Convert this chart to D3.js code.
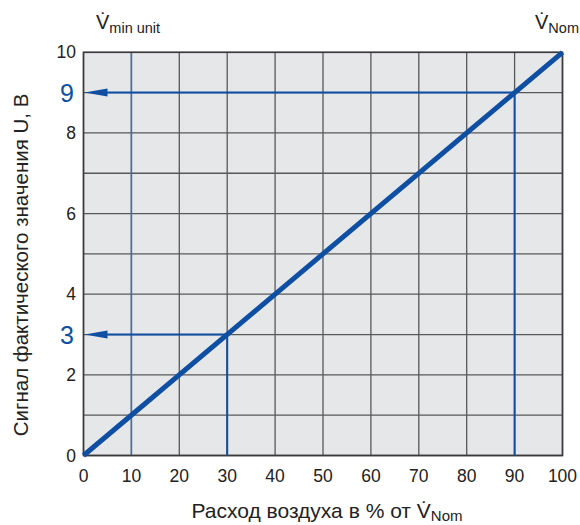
<!DOCTYPE html>
<html><head><meta charset="utf-8">
<script src="https://cdn.jsdelivr.net/npm/d3@7"></script>
<style>body{margin:0;background:#fff}svg{display:block;font-family:"Liberation Sans",Arial,sans-serif}</style>
</head><body>
<svg id="c" width="580" height="525"></svg>
<script>
const xTicks = [0,10,20,30,40,50,60,70,80,90,100];
const yGrid = [0,1,2,3,4,5,6,7,8,9,10];
const yTickLabels = [0,2,4,6,8,10];
const lineX = [0,100];
const lineY = [0,10];
const markX = [30,90];
const markY = [3,9];
const minUnitX = 10;

const svg = d3.select("#c");
const x = d3.scaleLinear().domain([0,100]).range([83.5,562.5]);
const y = d3.scaleLinear().domain([0,10]).range([455.5,52.3]);
const blue = "#0e4fa3";

svg.append("rect").attr("x",x(0)).attr("y",y(10)).attr("width",x(100)-x(0)).attr("height",y(0)-y(10)).attr("fill","#e6e7e8");

// grid
svg.append("g").selectAll("line").data(yGrid).join("line")
  .attr("x1",x(0)).attr("x2",x(100)).attr("y1",d=>y(d)).attr("y2",d=>y(d))
  .attr("stroke","#58585a").attr("stroke-width",1.3);
svg.append("g").selectAll("line").data(xTicks).join("line")
  .attr("x1",d=>x(d)).attr("x2",d=>x(d)).attr("y1",y(0)).attr("y2",y(10))
  .attr("stroke","#58585a").attr("stroke-width",1.3);

// min unit line
svg.append("line").attr("x1",x(minUnitX)).attr("x2",x(minUnitX)).attr("y1",y(0)).attr("y2",y(10))
  .attr("stroke","#3d6fb6").attr("stroke-width",1.5);

// border
svg.append("rect").attr("x",x(0)).attr("y",y(10)).attr("width",x(100)-x(0)).attr("height",y(0)-y(10))
  .attr("fill","none").attr("stroke","#3a3a3c").attr("stroke-width",1.6);

// drop lines and arrows
markX.forEach((mx,i)=>{
  const my = markY[i];
  svg.append("line").attr("x1",x(mx)).attr("x2",x(mx)).attr("y1",y(my)).attr("y2",y(0))
    .attr("stroke",blue).attr("stroke-width",2);
  svg.append("line").attr("x1",x(mx)).attr("x2",x(0)+20).attr("y1",y(my)).attr("y2",y(my))
    .attr("stroke",blue).attr("stroke-width",2);
  const ax = x(0)+1, ay = y(my);
  svg.append("path").attr("d",`M${ax},${ay} L${ax+23},${ay-4} L${ax+23},${ay+4} Z`).attr("fill",blue);
});

// diagonal
svg.append("line").attr("x1",x(lineX[0])).attr("y1",y(lineY[0])).attr("x2",x(lineX[1])).attr("y2",y(lineY[1]))
  .attr("stroke",blue).attr("stroke-width",5);

// tick labels
svg.append("g").selectAll("text").data(xTicks).join("text")
  .attr("x",d=>x(d)).attr("y",482).attr("text-anchor","middle").attr("font-size",17.5).attr("fill","#222")
  .text(d=>d);
svg.append("g").selectAll("text").data(yTickLabels).join("text")
  .attr("x",d=> 76).attr("y",d=>y(d)+6).attr("text-anchor","end").attr("font-size",17.5).attr("fill","#222")
  .text(d=>d);
svg.append("g").selectAll("text").data(markY).join("text")
  .attr("x",74).attr("y",d=>y(d)+9).attr("text-anchor","end").attr("font-size",25).attr("fill",blue)
  .text(d=>d);

// axis titles
const xt = svg.append("text").attr("x",327).attr("y",518).attr("text-anchor","middle").attr("font-size",21).attr("fill","#222");
xt.append("tspan").text("Расход воздуха в % от V̇");
xt.append("tspan").attr("font-size",15).attr("dy",3).text("Nom");

svg.append("text").attr("transform","translate(28,265) rotate(-90)").attr("text-anchor","middle")
  .attr("font-size",20.5).attr("fill","#222").text("Сигнал фактического значения U, В");

// top labels
const t1 = svg.append("text").attr("x",96).attr("y",29).attr("font-size",20).attr("fill","#222");
t1.append("tspan").text("V̇");
t1.append("tspan").attr("font-size",14.5).attr("dy",4).text("min unit");
const t2 = svg.append("text").attr("x",535).attr("y",29).attr("font-size",20).attr("fill","#222");
t2.append("tspan").text("V̇");
t2.append("tspan").attr("font-size",14.5).attr("dy",4).text("Nom");
</script>
</body></html>
